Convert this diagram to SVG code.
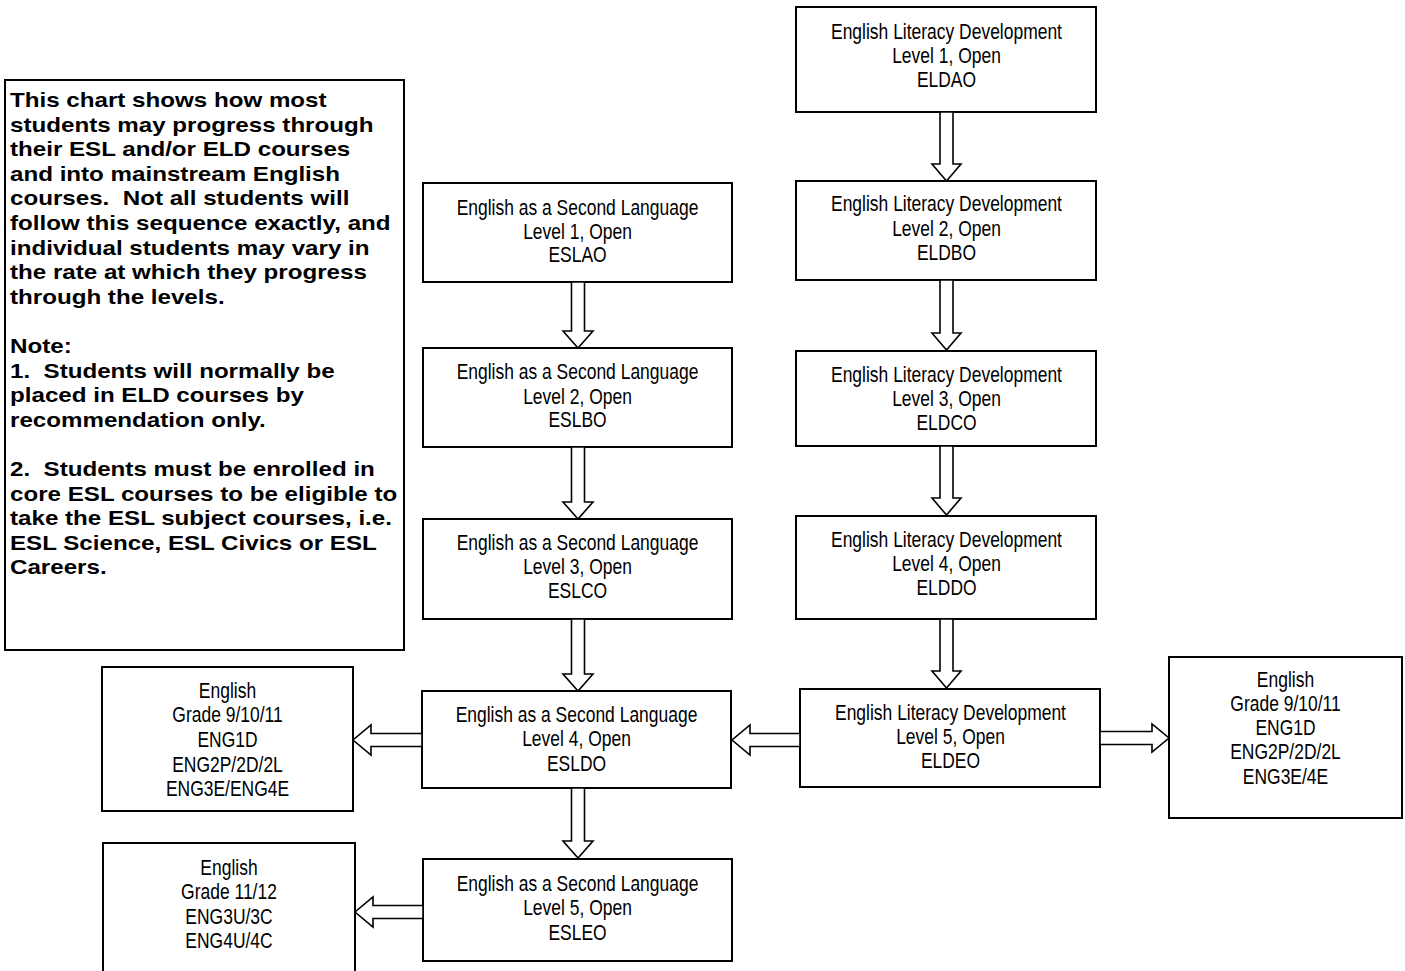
<svg xmlns="http://www.w3.org/2000/svg" width="1405" height="971" viewBox="0 0 1405 971">
  <style>
    .box { fill: #ffffff; stroke: #000000; stroke-width: 2; }
    .arrow { fill: #ffffff; stroke: #000000; stroke-width: 1.6; stroke-linejoin: miter; }
    .t { font-family: "Liberation Sans", Arial, sans-serif; font-size: 21.3px; fill: #000000; text-anchor: middle; }
    .note { font-family: "Liberation Sans", Arial, sans-serif; font-size: 20.3px; font-weight: bold; fill: #000000; white-space: pre; }
  </style>
  <rect width="1405" height="971" fill="#ffffff"/>

  <!-- explanatory note -->
  <g id="note">
    <rect class="box" x="5" y="80" width="399" height="570"/>
    <text class="note" transform="translate(10 0) scale(1.19 1)">
      <tspan x="0" y="107">This chart shows how most</tspan>
      <tspan x="0" y="131.6">students may progress through</tspan>
      <tspan x="0" y="156.2">their ESL and/or ELD courses</tspan>
      <tspan x="0" y="180.8">and into mainstream English</tspan>
      <tspan x="0" y="205.4">courses.  Not all students will</tspan>
      <tspan x="0" y="230">follow this sequence exactly, and</tspan>
      <tspan x="0" y="254.6">individual students may vary in</tspan>
      <tspan x="0" y="279.2">the rate at which they progress</tspan>
      <tspan x="0" y="303.8">through the levels.</tspan>
      <tspan x="0" y="353">Note:</tspan>
      <tspan x="0" y="377.6">1.  Students will normally be</tspan>
      <tspan x="0" y="402.2">placed in ELD courses by</tspan>
      <tspan x="0" y="426.8">recommendation only.</tspan>
      <tspan x="0" y="476">2.  Students must be enrolled in</tspan>
      <tspan x="0" y="500.6">core ESL courses to be eligible to</tspan>
      <tspan x="0" y="525.2">take the ESL subject courses, i.e.</tspan>
      <tspan x="0" y="549.8">ESL Science, ESL Civics or ESL</tspan>
      <tspan x="0" y="574.4">Careers.</tspan>
    </text>
  </g>

  <!-- English Literacy Development column -->
  <g id="eld1">
    <rect class="box" x="796" y="7" width="300" height="105"/>
    <text class="t" transform="translate(946.5 0) scale(0.82 1)"><tspan x="0" y="39">English Literacy Development</tspan><tspan x="0" y="63">Level 1, Open</tspan><tspan x="0" y="87">ELDAO</tspan></text>
  </g>
  <g id="eld2">
    <rect class="box" x="796" y="181" width="300" height="99"/>
    <text class="t" transform="translate(946.5 0) scale(0.82 1)"><tspan x="0" y="211">English Literacy Development</tspan><tspan x="0" y="236">Level 2, Open</tspan><tspan x="0" y="260">ELDBO</tspan></text>
  </g>
  <g id="eld3">
    <rect class="box" x="796" y="351" width="300" height="95"/>
    <text class="t" transform="translate(946.5 0) scale(0.82 1)"><tspan x="0" y="382">English Literacy Development</tspan><tspan x="0" y="406">Level 3, Open</tspan><tspan x="0" y="430">ELDCO</tspan></text>
  </g>
  <g id="eld4">
    <rect class="box" x="796" y="516" width="300" height="103"/>
    <text class="t" transform="translate(946.5 0) scale(0.82 1)"><tspan x="0" y="547">English Literacy Development</tspan><tspan x="0" y="571">Level 4, Open</tspan><tspan x="0" y="595">ELDDO</tspan></text>
  </g>
  <g id="eld5">
    <rect class="box" x="800" y="689" width="300" height="98"/>
    <text class="t" transform="translate(950.5 0) scale(0.82 1)"><tspan x="0" y="720">English Literacy Development</tspan><tspan x="0" y="744">Level 5, Open</tspan><tspan x="0" y="768">ELDEO</tspan></text>
  </g>

  <!-- English as a Second Language column -->
  <g id="esl1">
    <rect class="box" x="423" y="183" width="309" height="99"/>
    <text class="t" transform="translate(577.5 0) scale(0.82 1)"><tspan x="0" y="215">English as a Second Language</tspan><tspan x="0" y="239">Level 1, Open</tspan><tspan x="0" y="262">ESLAO</tspan></text>
  </g>
  <g id="esl2">
    <rect class="box" x="423" y="348" width="309" height="99"/>
    <text class="t" transform="translate(577.5 0) scale(0.82 1)"><tspan x="0" y="379">English as a Second Language</tspan><tspan x="0" y="404">Level 2, Open</tspan><tspan x="0" y="427">ESLBO</tspan></text>
  </g>
  <g id="esl3">
    <rect class="box" x="423" y="519" width="309" height="100"/>
    <text class="t" transform="translate(577.5 0) scale(0.82 1)"><tspan x="0" y="550">English as a Second Language</tspan><tspan x="0" y="574">Level 3, Open</tspan><tspan x="0" y="598">ESLCO</tspan></text>
  </g>
  <g id="esl4">
    <rect class="box" x="422" y="691" width="309" height="97"/>
    <text class="t" transform="translate(576.5 0) scale(0.82 1)"><tspan x="0" y="722">English as a Second Language</tspan><tspan x="0" y="746">Level 4, Open</tspan><tspan x="0" y="771">ESLDO</tspan></text>
  </g>
  <g id="esl5">
    <rect class="box" x="423" y="859" width="309" height="102"/>
    <text class="t" transform="translate(577.5 0) scale(0.82 1)"><tspan x="0" y="891">English as a Second Language</tspan><tspan x="0" y="915">Level 5, Open</tspan><tspan x="0" y="940">ESLEO</tspan></text>
  </g>

  <!-- mainstream English destinations -->
  <g id="eng-9-10-11-left">
    <rect class="box" x="102" y="667" width="251" height="144"/>
    <text class="t" transform="translate(227.5 0) scale(0.82 1)"><tspan x="0" y="698">English</tspan><tspan x="0" y="722">Grade 9/10/11</tspan><tspan x="0" y="747">ENG1D</tspan><tspan x="0" y="772">ENG2P/2D/2L</tspan><tspan x="0" y="796">ENG3E/ENG4E</tspan></text>
  </g>
  <g id="eng-11-12">
    <rect class="box" x="103" y="843" width="252" height="140"/>
    <text class="t" transform="translate(229 0) scale(0.82 1)"><tspan x="0" y="875">English</tspan><tspan x="0" y="899">Grade 11/12</tspan><tspan x="0" y="924">ENG3U/3C</tspan><tspan x="0" y="948">ENG4U/4C</tspan></text>
  </g>
  <g id="eng-9-10-11-right">
    <rect class="box" x="1169" y="657" width="233" height="161"/>
    <text class="t" transform="translate(1285.5 0) scale(0.82 1)"><tspan x="0" y="687">English</tspan><tspan x="0" y="711">Grade 9/10/11</tspan><tspan x="0" y="735">ENG1D</tspan><tspan x="0" y="759">ENG2P/2D/2L</tspan><tspan x="0" y="784">ENG3E/4E</tspan></text>
  </g>

  <!-- block arrows -->
  <g id="connectors">
    <!-- ESL column, downward -->
    <polygon class="arrow" points="571.5,282 584.5,282 584.5,331 593,331 578,348 563,331 571.5,331"/>
    <polygon class="arrow" points="571.5,447 584.5,447 584.5,502 593,502 578,519 563,502 571.5,502"/>
    <polygon class="arrow" points="571.5,619 584.5,619 584.5,674 593,674 578,691 563,674 571.5,674"/>
    <polygon class="arrow" points="571.5,788 584.5,788 584.5,841 593,841 578,858 563,841 571.5,841"/>
    <!-- ELD column, downward -->
    <polygon class="arrow" points="940,112 953,112 953,164 961,164 946.5,181 932,164 940,164"/>
    <polygon class="arrow" points="940,280 953,280 953,333 961,333 946.5,350 932,333 940,333"/>
    <polygon class="arrow" points="940,446 953,446 953,498 961,498 946.5,515 932,498 940,498"/>
    <polygon class="arrow" points="940,619 953,619 953,671 961,671 946.5,688 932,671 940,671"/>
    <!-- sideways -->
    <polygon class="arrow" points="422,733.5 422,746.5 371,746.5 371,755 353,740 371,725 371,733.5"/>
    <polygon class="arrow" points="800,733.5 800,746.5 750,746.5 750,755 732,740 750,725 750,733.5"/>
    <polygon class="arrow" points="1100,731.5 1100,744.5 1152,744.5 1152,752 1169,738 1152,724 1152,731.5"/>
    <polygon class="arrow" points="423,905.5 423,918.5 373,918.5 373,927 355,912 373,897 373,905.5"/>
  </g>
</svg>
